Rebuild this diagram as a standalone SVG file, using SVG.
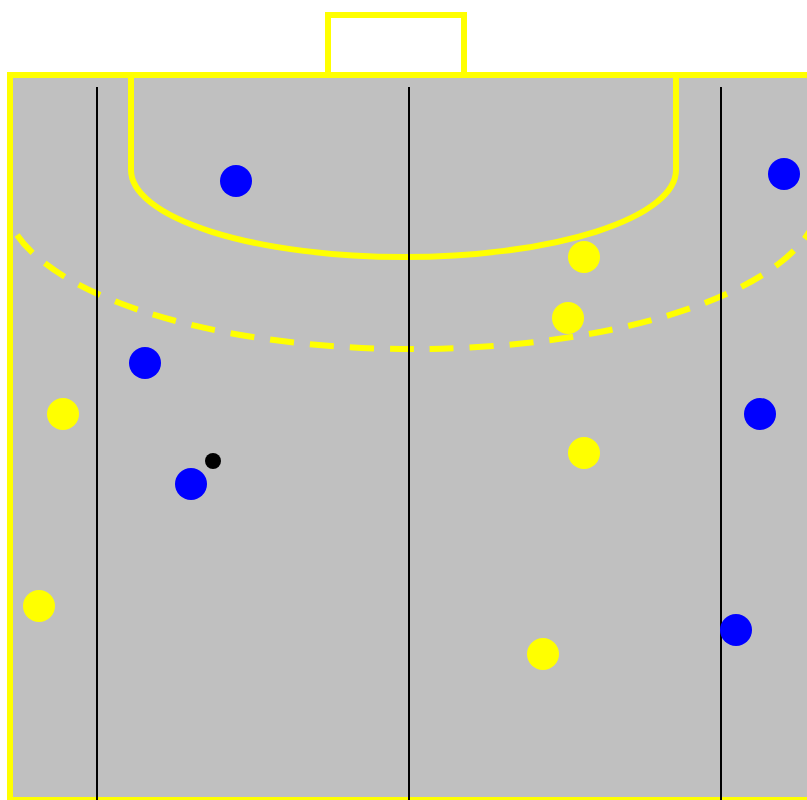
<svg xmlns="http://www.w3.org/2000/svg" width="807" height="800" viewBox="0 0 807 800">
<style>
.line{fill:none;stroke:#FFFF00;stroke-width:6}
.court{fill:#C0C0C0;stroke:#FFFF00;stroke-width:6}
.dash{fill:none;stroke:#FFFF00;stroke-width:6;stroke-dasharray:24 16}
.lane{stroke:#000;stroke-width:2}
.blue{fill:#0000FF}
.yellow{fill:#FFFF00}
</style>
<rect width="807" height="800" fill="#FFFFFF"/>
<g id="court">
<rect class="court" x="10" y="75" width="810" height="725"/>
<rect class="line" x="328" y="15" width="136" height="60"/>
<path class="line" d="M131,75 V170 A273,87 0 0 0 404,257 A272,87 0 0 0 676,170 V75"/>
<path class="dash" d="M17,235 A408,152 0 0 0 811,229"/>
<line class="lane" x1="97" y1="87" x2="97" y2="800"/>
<line class="lane" x1="409" y1="87" x2="409" y2="800"/>
<line class="lane" x1="721" y1="87" x2="721" y2="800"/>
</g>
<g id="blue-team">
<circle class="blue" cx="236" cy="181" r="16"/>
<circle class="blue" cx="784" cy="174" r="16"/>
<circle class="blue" cx="145" cy="363" r="16"/>
<circle class="blue" cx="760" cy="414" r="16"/>
<circle class="blue" cx="191" cy="484" r="16"/>
<circle class="blue" cx="736" cy="630" r="16"/>
</g>
<g id="yellow-team">
<circle class="yellow" cx="584" cy="257" r="16"/>
<circle class="yellow" cx="568" cy="318" r="16"/>
<circle class="yellow" cx="63" cy="414" r="16"/>
<circle class="yellow" cx="584" cy="453" r="16"/>
<circle class="yellow" cx="39" cy="606" r="16"/>
<circle class="yellow" cx="543" cy="654" r="16"/>
</g>
<g id="ball">
<circle cx="213" cy="461" r="8" fill="#000"/>
</g>
</svg>
